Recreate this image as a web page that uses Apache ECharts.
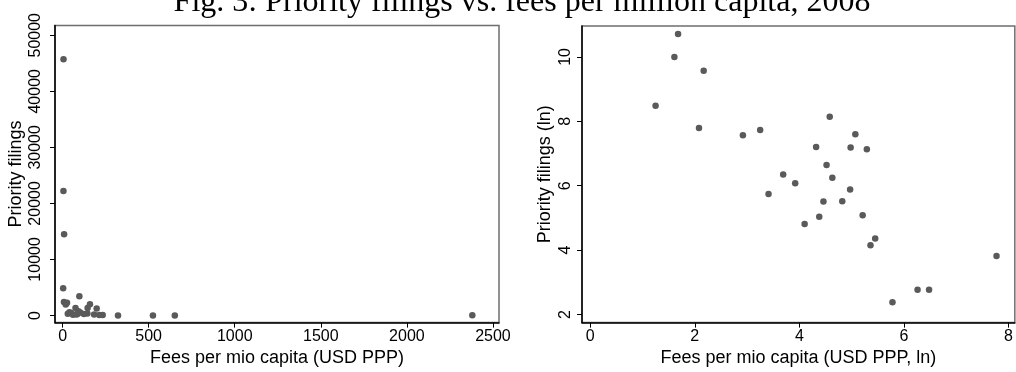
<!DOCTYPE html>
<html>
<head>
<meta charset="utf-8">
<script src="https://cdn.jsdelivr.net/npm/echarts@6/dist/echarts.min.js"></script>
<style>html,body{margin:0;padding:0;background:#fff}#c{width:1016px;height:372px}</style>
</head>
<body>
<div id="c"></div>
<script>
const titleText = 'Fig. 3: Priority filings vs. fees per million capita, 2008';

// Left panel: fees per mio capita (USD PPP) vs priority filings
const feesLevel = [5.4, 5.0, 8.8, 3.5, 8.0, 18.5, 25.8, 97.5, 159, 75, 145.5, 198, 92, 40, 102.5, 50.4, 144, 30.3, 86.5, 124, 183, 79.8, 60.3, 233, 213, 2380, 322, 525, 652];
const filingsLevel = [45700, 22200, 14500, 4850, 2420, 1940, 2275, 3430, 2010, 1340, 1326, 1240, 765, 572, 518, 437, 358, 311, 247, 250, 161, 154, 123, 78, 63, 46, 11, 16, 16];

// Right panel: logs
const feesLn = [1.68, 1.61, 2.17, 1.25, 2.08, 2.92, 3.25, 4.58, 5.07, 4.32, 4.98, 5.29, 4.52, 3.69, 4.63, 3.92, 4.97, 3.41, 4.46, 4.82, 5.21, 4.38, 4.10, 5.45, 5.36, 7.77, 5.78, 6.26, 6.48];
const filingsLn = [10.71, 10.0, 9.57, 8.48, 7.79, 7.57, 7.73, 8.14, 7.60, 7.20, 7.19, 7.13, 6.64, 6.35, 6.25, 6.08, 5.88, 5.74, 5.51, 5.52, 5.08, 5.04, 4.81, 4.36, 4.15, 3.82, 2.38, 2.77, 2.77];

const xTicksLeft = [0, 500, 1000, 1500, 2000, 2500];
const yTicksLeft = [0, 10000, 20000, 30000, 40000, 50000];
const xTicksRight = [0, 2, 4, 6, 8];
const yTicksRight = [2, 4, 6, 8, 10];

const sans = 'Liberation Sans, Arial, sans-serif';
const dotColor = '#5a5a5a';
const plain = v => String(v);

function xAxisCfg(idx, min, max, ticks, name) {
  return {
    type: 'value', gridIndex: idx, min: min, max: max,
    name: name, nameLocation: 'middle', nameGap: 24.5,
    nameTextStyle: {fontFamily: sans, fontSize: 18, color: '#000'},
    axisLine: {show: true, onZero: false, lineStyle: {color: '#000', width: 1.5}},
    axisTick: {show: true, inside: false, length: 5, customValues: ticks, lineStyle: {color: '#000', width: 1}},
    axisLabel: {show: true, customValues: ticks, formatter: plain, margin: 5.5, fontFamily: sans, fontSize: 16, color: '#000'},
    splitLine: {show: false}
  };
}
function yAxisCfg(idx, min, max, ticks, name, gap, margin) {
  return {
    type: 'value', gridIndex: idx, min: min, max: max,
    name: name, nameLocation: 'middle', nameGap: gap,
    nameTextStyle: {fontFamily: sans, fontSize: 18, color: '#000'},
    axisLine: {show: true, onZero: false, lineStyle: {color: '#000', width: 1.5}},
    axisTick: {show: true, inside: false, length: 5, customValues: ticks, lineStyle: {color: '#000', width: 1}},
    axisLabel: {show: true, customValues: ticks, formatter: plain, rotate: 90, margin: margin, fontFamily: sans, fontSize: 16, color: '#000'},
    splitLine: {show: false}
  };
}

const leftData = feesLevel.map((v, i) => [v, filingsLevel[i]]);
const rightData = feesLn.map((v, i) => [v, filingsLn[i]]);

const chart = echarts.init(document.getElementById('c'), null, {renderer: 'canvas'});
chart.setOption({
  animation: false,
  backgroundColor: '#fff',
  title: {
    text: titleText, left: 517, top: -18, textAlign: 'center',
    textStyle: {fontFamily: 'Liberation Serif, Times New Roman, serif', fontSize: 32, fontWeight: 'normal', color: '#000'}
  },
  grid: [
    {left: 55, top: 25.5, width: 444, height: 304, show: true, borderColor: '#6e6e6e', borderWidth: 1.5, backgroundColor: '#fff'},
    {left: 582, top: 26, width: 444, height: 304, show: true, borderColor: '#6e6e6e', borderWidth: 1.5, backgroundColor: '#fff'}
  ],
  xAxis: [
    xAxisCfg(0, -44, 2535, xTicksLeft, 'Fees per mio capita (USD PPP)'),
    xAxisCfg(1, -0.157, 8.12, xTicksRight, 'Fees per mio capita (USD PPP, ln)')
  ],
  yAxis: [
    yAxisCfg(0, -1273, 51740, yTicksLeft, 'Priority filings', 30, 11),
    yAxisCfg(1, 1.75, 10.96, yTicksRight, 'Priority filings (ln)', 28, 8)
  ],
  series: [
    {type: 'scatter', xAxisIndex: 0, yAxisIndex: 0, data: leftData, symbol: 'circle', symbolSize: 6.5, itemStyle: {color: dotColor, opacity: 1}},
    {type: 'scatter', xAxisIndex: 1, yAxisIndex: 1, data: rightData, symbol: 'circle', symbolSize: 6.5, itemStyle: {color: dotColor, opacity: 1}}
  ]
});
</script>
</body>
</html>
